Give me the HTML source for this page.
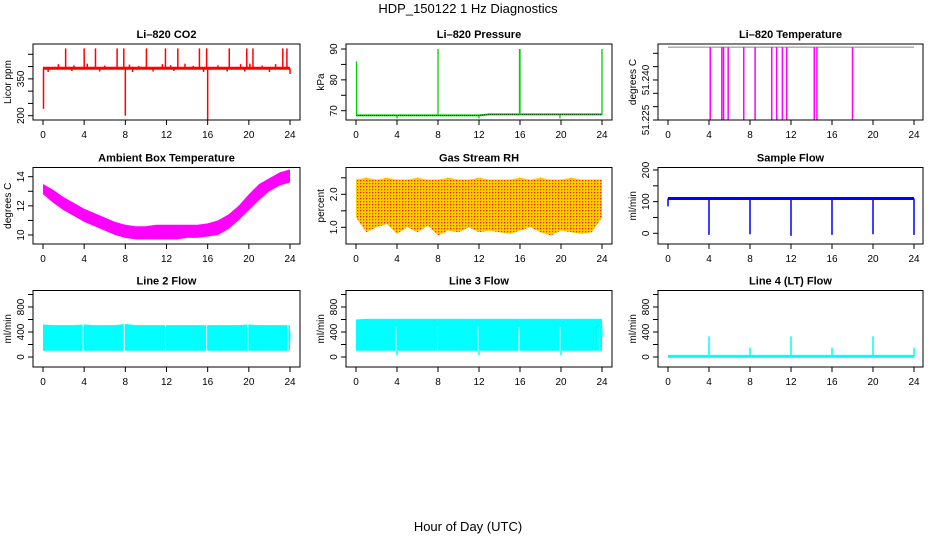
<!DOCTYPE html>
<html><head><meta charset="utf-8"><style>
body{margin:0;background:#fff}
svg text{font-family:"Liberation Sans",sans-serif;fill:#000}
</style></head><body>
<svg id="c" width="936" height="540" xmlns="http://www.w3.org/2000/svg">
<defs><pattern id="rhp" width="3" height="3" patternUnits="userSpaceOnUse"><rect width="3" height="3" fill="#ffd000"/><rect width="1.3" height="1.3" fill="#ff2000"/></pattern></defs>
<text x="468" y="13" text-anchor="middle" font-size="13">HDP_150122  1 Hz Diagnostics</text>
<text x="468" y="531" text-anchor="middle" font-size="13">Hour of Day (UTC)</text>
</svg>
<script>
const hours=[0,1,2,3,4,5,6,7,8,9,10,11,12,13,14,15,16,17,18,19,20,21,22,23,24];
const xTicks=[0,4,8,12,16,20,24];
// CO2
const co2Base=[393,393,393,393,393,393,393,393,393,393,393,393,393,393,393,393,393,393,393,393,393,393,393,393,393];
const co2SpikeT=[2.2,4.0,5.1,7.2,7.85,10.05,11.9,13.1,15.2,15.9,18.1,19.8,20.4,23.3,23.7,8.0,16.0,0.05,24.0,1.5,3.0,4.3,6.0,8.4,9.3,11.6,12.4,13.8,14.6,17.0,19.2,20.1,21.3,22.6,0.5,2.8,5.5,8.7,10.7,12.7,15.6,17.9,19.6,22.0];
const co2SpikeV=[474,474,474,474,474,474,474,474,474,474,474,474,474,474,474,200,182,228,370,410,405,412,404,408,402,410,406,412,403,405,410,412,404,410,378,382,380,378,380,382,378,380,380,378];
// Pressure
const presBase=[68.5,68.5,68.5,68.5,68.5,68.5,68.5,68.5,68.5,68.5,68.5,68.5,68.5,68.8,68.8,68.8,68.8,68.8,68.8,68.8,68.8,68.8,68.8,68.8,68.8];
const presSpikeT=[0.05,8.0,16.0,15.95,24.0,4.0,12.0,19.9];
const presSpikeV=[86,90,90,90,90,67.5,67.5,67.5];
// Li-820 temperature
const tempLevel=51.2523;
const tempDropT=[4.12,5.25,5.42,5.87,7.39,8.5,10.12,10.6,11.16,11.58,14.27,14.53,18.0];
const tempDropV=[51.225,51.225,51.225,51.225,51.225,51.225,51.225,51.225,51.225,51.225,51.225,51.225,51.225];
// Ambient box temperature
const ambLo=[12.8,12.2,11.7,11.3,10.9,10.6,10.3,10.0,9.8,9.7,9.7,9.7,9.7,9.7,9.8,9.8,9.9,10.0,10.4,11.0,11.7,12.4,13.0,13.4,13.6];
const ambHi=[13.5,13.1,12.6,12.2,11.8,11.5,11.2,10.9,10.7,10.6,10.6,10.7,10.7,10.7,10.7,10.7,10.8,11.0,11.4,12.0,12.8,13.5,13.9,14.3,14.5];
// Gas stream RH
const rhLo=[1.3,0.85,1.0,1.1,0.8,1.0,0.85,1.05,0.75,0.9,0.85,1.0,0.85,0.9,0.85,0.8,0.9,1.0,0.85,0.75,0.9,0.85,0.8,0.85,1.3];
const rhHi=[2.45,2.5,2.45,2.5,2.45,2.45,2.5,2.45,2.45,2.5,2.45,2.45,2.5,2.45,2.45,2.45,2.5,2.45,2.5,2.45,2.45,2.5,2.45,2.45,2.45];
// Sample flow
const sfBase=[110,110,110,110,110,110,110,110,110,110,110,110,110,110,110,110,110,110,110,110,110,110,110,110,110];
const sfDipT=[0,4,8,12,16,20,24];
const sfDipV=[85,-5,-3,-8,-5,-3,-5];
// Line 2 flow
const l2Lo=[100,100,100,100,100,100,100,100,100,100,100,100,100,100,100,100,100,100,100,100,100,100,100,100,100];
const l2Hi=[520,510,510,510,520,510,510,510,530,510,510,510,510,510,510,510,510,510,510,510,520,510,510,510,510];
const l2GapT=[3.9,7.9,11.9,15.9,19.9,23.8];
// Line 3 flow
const l3Lo=[100,100,100,100,100,100,100,100,100,100,100,100,100,100,100,100,100,100,100,100,100,100,100,100,100];
const l3Hi=[600,610,610,610,610,610,610,610,610,610,610,610,610,610,610,610,610,610,610,610,610,610,610,610,610];
const l3GapT=[3.9,7.95,11.9,15.9,19.9,23.75];
const l3DipT=[4.0,12.0,20.0];
const l3DipV=[30,30,30];
// Line 4 flow
const l4Base=[10,10,10,10,10,10,10,10,10,10,10,10,10,10,10,10,10,10,10,10,10,10,10,10,10];
const l4SpikeT=[4,8,12,16,20,24];
const l4SpikeV=[330,150,330,150,330,150];

const svg=document.getElementById('c');
const NS='http://www.w3.org/2000/svg';
function mk(tag,attrs,parent){const e=document.createElementNS(NS,tag);for(const k in attrs)e.setAttribute(k,attrs[k]);(parent||svg).appendChild(e);return e;}
const cols=[{L:33,R:300,x0:43,x24:290},{L:346,R:612,x0:356,x24:602},{L:658,R:923,x0:668,x24:914}];
const rows=[{T:44,B:120},{T:167.5,B:244},{T:290.5,B:367}];

function panel(ci,ri,title,ylab,ticks,labels,v1,y1,v2,y2,name){
  const c=cols[ci],r=rows[ri];
  const g=mk('g',{});
  
  
  const X=h=>c.x0+(h/24)*(c.x24-c.x0);
  const Y=v=>y1+(v-v1)*(y2-y1)/(v2-v1);
  const clipId='cl'+ci+ri;
  const cp=mk('clipPath',{id:clipId},g);mk('rect',{x:c.L,y:r.T,width:c.R-c.L,height:r.B-r.T},cp);
  const plot=mk('g',{'clip-path':'url(#'+clipId+')'},g);
  
  
  const t=mk('text',{x:(c.L+c.R)/2,y:r.T-6,'text-anchor':'middle','font-size':'11','font-weight':'bold'},g);t.textContent=title;
  
  
  const box=mk('rect',{x:c.L,y:r.T,width:c.R-c.L,height:r.B-r.T,fill:'none',stroke:'#000','stroke-width':1},g);
  
  
  const xa=mk('g',{},g);
  
  
  mk('line',{x1:X(0),x2:X(24),y1:r.B,y2:r.B,stroke:'#000'},xa);
  xTicks.forEach(h=>{mk('line',{x1:X(h),x2:X(h),y1:r.B,y2:r.B+5,stroke:'#000'},xa);
    const tt=mk('text',{x:X(h),y:r.B+18,'text-anchor':'middle','font-size':'10'},xa);tt.textContent=h;});
  const ya=mk('g',{},g);
  
  
  mk('line',{x1:c.L,x2:c.L,y1:Y(ticks[0]),y2:Y(ticks[ticks.length-1]),stroke:'#000'},ya);
  ticks.forEach(v=>mk('line',{x1:c.L-5,x2:c.L,y1:Y(v),y2:Y(v),stroke:'#000'},ya));
  labels.forEach(v=>{const yy=Y(v);const tt=mk('text',{x:c.L-9,y:yy,'text-anchor':'middle','font-size':'10',transform:`rotate(-90 ${c.L-9} ${yy})`},ya);tt.textContent=v;});
  const yl=mk('text',{x:c.L-22,y:(r.T+r.B)/2,'text-anchor':'middle','font-size':'10',transform:`rotate(-90 ${c.L-22} ${(r.T+r.B)/2})`},g);yl.textContent=ylab;
  
  
  return {X,Y,plot};
}
function band(p,lo,hi,fill){
  let pts=hours.map((h,i)=>p.X(h)+','+p.Y(hi[i]));
  pts=pts.concat(hours.slice().reverse().map((h,k)=>{const i=hours.length-1-k;return p.X(h)+','+p.Y(lo[i]);}));
  return mk('polygon',{points:pts.join(' '),fill:fill,stroke:'none'},p.plot);
}
function line(p,vals,color,w){return mk('polyline',{points:hours.map((h,i)=>p.X(h)+','+p.Y(vals[i])).join(' '),fill:'none',stroke:color,'stroke-width':w},p.plot);}
function spikes(p,ts,vs,base,color,w){ts.forEach((t,i)=>{const l=mk('line',{x1:p.X(t),x2:p.X(t),y1:p.Y(base),y2:p.Y(vs[i]),stroke:color,'stroke-width':w},p.plot);
  
  });}

// Panel 1: CO2
let p=panel(0,0,'Li\u2013820 CO2','Licor ppm',[200,250,300,350,400,450],[200,350],200,115.7,450,54.3,'co2');
line(p,co2Base,'#f00',3);
spikes(p,co2SpikeT,co2SpikeV,393,'#f00',1.5);
// Panel 2: pressure
p=panel(1,0,'Li\u2013820 Pressure','kPa',[70,75,80,85,90],[70,80,90],70,110.7,90,49,'pressure');
line(p,presBase,'#00d000',2);
line(p,presBase,'#000',0.6).setAttribute('stroke-dasharray','1 1');
spikes(p,presSpikeT,presSpikeV,68.5,'#00d000',1.3);
// Panel 3: Li-820 temperature
p=panel(2,0,'Li\u2013820 Temperature','degrees C',[51.225,51.23,51.235,51.24,51.245,51.25],['51.225','51.240'],51.225,120,51.25,53.3,'li820-temp');
line(p,hours.map(()=>tempLevel),'#888',1);
spikes(p,tempDropT,tempDropV,tempLevel,'#f0f',1.5);
// Panel 4: ambient
p=panel(0,1,'Ambient Box Temperature','degrees C',[10,11,12,13,14],[10,12,14],10,235,14,176.7,'ambient-temp');
band(p,ambLo,ambHi,'#f0f');
// Panel 5: RH
p=panel(1,1,'Gas Stream RH','percent',[1.0,1.5,2.0,2.5],['1.0','2.0'],1.0,227.3,2.0,194.3,'gas-rh');
band(p,rhLo,rhHi,'url(#rhp)');
// Panel 6: sample flow
p=panel(2,1,'Sample Flow','ml/min',[0,50,100,150,200],[0,100,200],0,233.3,200,170,'sample-flow');
line(p,sfBase,'#00f',3);
spikes(p,sfDipT,sfDipV,110,'#00f',1.5);
// Panel 7: line 2
p=panel(0,2,'Line 2 Flow','ml/min',[0,200,400,600,800,1000],[0,400,800],0,357,800,307,'line2-flow');
band(p,l2Lo,l2Hi,'#0ff');
spikes(p,l2GapT,l2GapT.map(()=>560),60,'#fff',1);
spikes(p,[23.95],[400],250,'#0ff',2);
// Panel 8: line 3
p=panel(1,2,'Line 3 Flow','ml/min',[0,200,400,600,800,1000],[0,400,800],0,357,800,307,'line3-flow');
band(p,l3Lo,l3Hi,'#0ff');
spikes(p,l3GapT,l3GapT.map(()=>480),60,'#fff',1);
spikes(p,[23.95],[480],320,'#0ff',2);
spikes(p,l3DipT,l3DipV,100,'#0ff',1.5);
// Panel 9: line 4
p=panel(2,2,'Line 4 (LT) Flow','ml/min',[0,200,400,600,800,1000],[0,400,800],0,357,800,307,'line4-flow');
line(p,l4Base,'#0ff',3);
spikes(p,l4SpikeT,l4SpikeV,10,'#0ff',1.5);
</script>
</body></html>
